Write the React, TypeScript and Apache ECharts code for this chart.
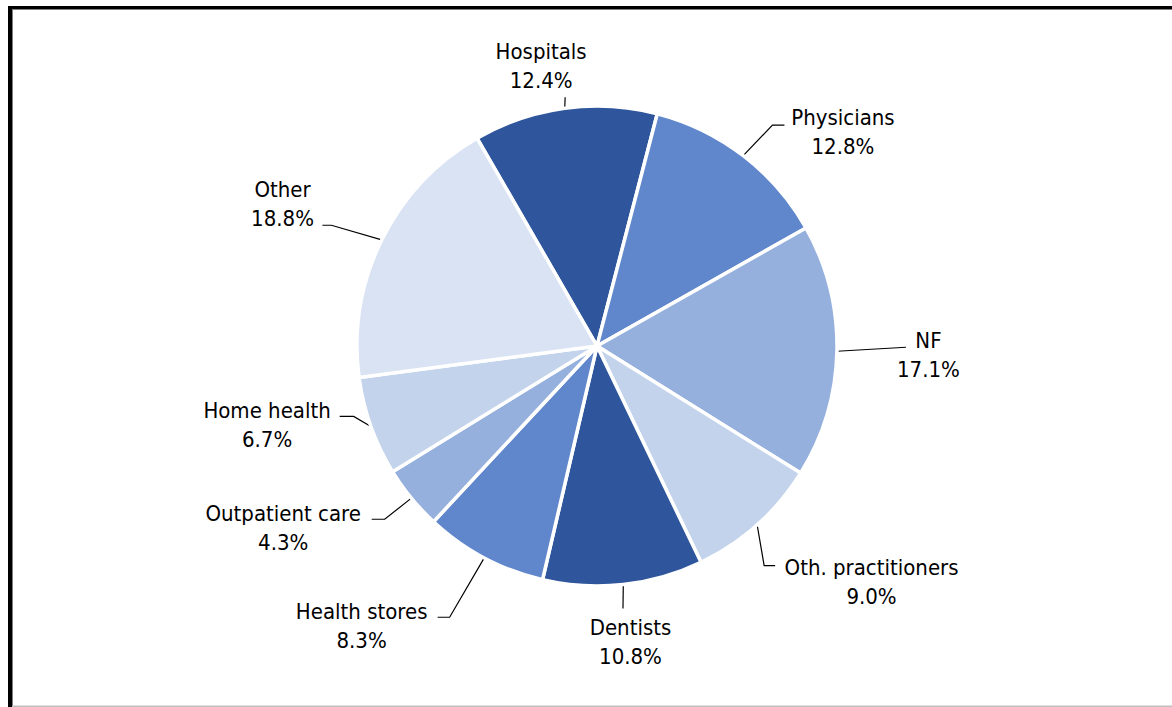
import React, { useEffect, useRef } from "react";
import * as echarts from "echarts";

// ---- data ----
const CATEGORIES = [
  "Hospitals",
  "Physicians",
  "NF",
  "Oth. practitioners",
  "Dentists",
  "Health stores",
  "Outpatient care",
  "Home health",
  "Other",
];
const SHARES = [12.4, 12.8, 17.1, 9.0, 10.8, 8.3, 4.3, 6.7, 18.8];

// ---- styling ----
const COLORS = [
  "#2F569C",
  "#6086CB",
  "#95B0DD",
  "#C3D3EC",
  "#2F569C",
  "#6086CB",
  "#95B0DD",
  "#C3D3EC",
  "#DAE3F3",
];
// leader line: bend vector from slice edge, then horizontal run, then label offset
const LEADER_BEND: number[][] = [
  [0.4, -11],
  [29.2, -30.6],
  [69, -4],
  [7, 40.8],
  [-0.3, 24],
  [-34.6, 59.4],
  [-26.7, 21.1],
  [-17.2, -10],
  [-50.3, -14.7],
];
const LEADER_RUN = [0, 12, 0, 11, 0, -12, -13, -14, -9];
const LABEL_OFFSET: number[][] = [
  [-24, -31.5],
  [58.5, 6.5],
  [22.5, 7.5],
  [96.4, 16.6],
  [7.5, 33],
  [-76, 8.8],
  [-88.5, 9.1],
  [-72.6, 8.6],
  [-39.9, -21.1],
];

const W = 1172;
const H = 707;

export default function App() {
  const ref = useRef<HTMLDivElement>(null);
  useEffect(() => {
    if (!ref.current) return;
    const chart = echarts.init(ref.current, undefined, { renderer: "svg" });
    const option: any = {
      animation: false,
      backgroundColor: "#ffffff",
      graphic: [
        { type: "rect", shape: { x: 8, y: 6, width: W - 8, height: 3 }, style: { fill: "#000" }, silent: true },
        { type: "rect", shape: { x: 12, y: 9, width: W - 12, height: 1 }, style: { fill: "#7f7f7f" }, silent: true },
        { type: "rect", shape: { x: 8, y: 6, width: 4, height: H - 6 }, style: { fill: "#000" }, silent: true },
        { type: "rect", shape: { x: 12, y: 9, width: 1, height: H - 9 }, style: { fill: "#7f7f7f" }, silent: true },
        { type: "rect", shape: { x: 12, y: 705.5, width: W - 12, height: 1.5 }, style: { fill: "#bfbfbf" }, silent: true },
      ],
      series: [
        {
          type: "pie",
          center: [597, 346],
          radius: 240,
          startAngle: 120,
          clockwise: true,
          avoidLabelOverlap: false,
          silent: true,
          itemStyle: { borderColor: "#ffffff", borderWidth: 3.5 },
          label: {
            show: true,
            position: "outside",
            color: "#000",
            fontFamily: "'DejaVu Sans Condensed', 'DejaVu Sans', sans-serif",
            fontSize: 22,
            lineHeight: 29,
            formatter: (p: any) => `${p.name}\n${Number(p.value).toFixed(1)}%`,
          },
          labelLine: {
            show: true,
            length: 10,
            length2: 10,
            lineStyle: { color: "#000", width: 1.2 },
          },
          labelLayout: (params: any) => {
            const i = params.dataIndex;
            const pts = params.labelLinePoints;
            if (!pts) return {};
            const p0 = pts[0];
            const b = LEADER_BEND[i];
            const p1 = [p0[0] + b[0], p0[1] + b[1]];
            const p2 = [p1[0] + LEADER_RUN[i], p1[1]];
            const o = LABEL_OFFSET[i];
            return {
              x: p2[0] + o[0],
              y: p2[1] + o[1],
              align: "center",
              verticalAlign: "middle",
              labelLinePoints: [p0, p1, p2],
            };
          },
          data: CATEGORIES.map((name, i) => ({
            name,
            value: SHARES[i],
            itemStyle: { color: COLORS[i] },
          })),
        },
      ],
    };
    chart.setOption(option);
    return () => chart.dispose();
  }, []);
  return (
    <div
      ref={ref}
      style={{ position: "absolute", left: 0, top: 0, width: W, height: H }}
    />
  );
}
